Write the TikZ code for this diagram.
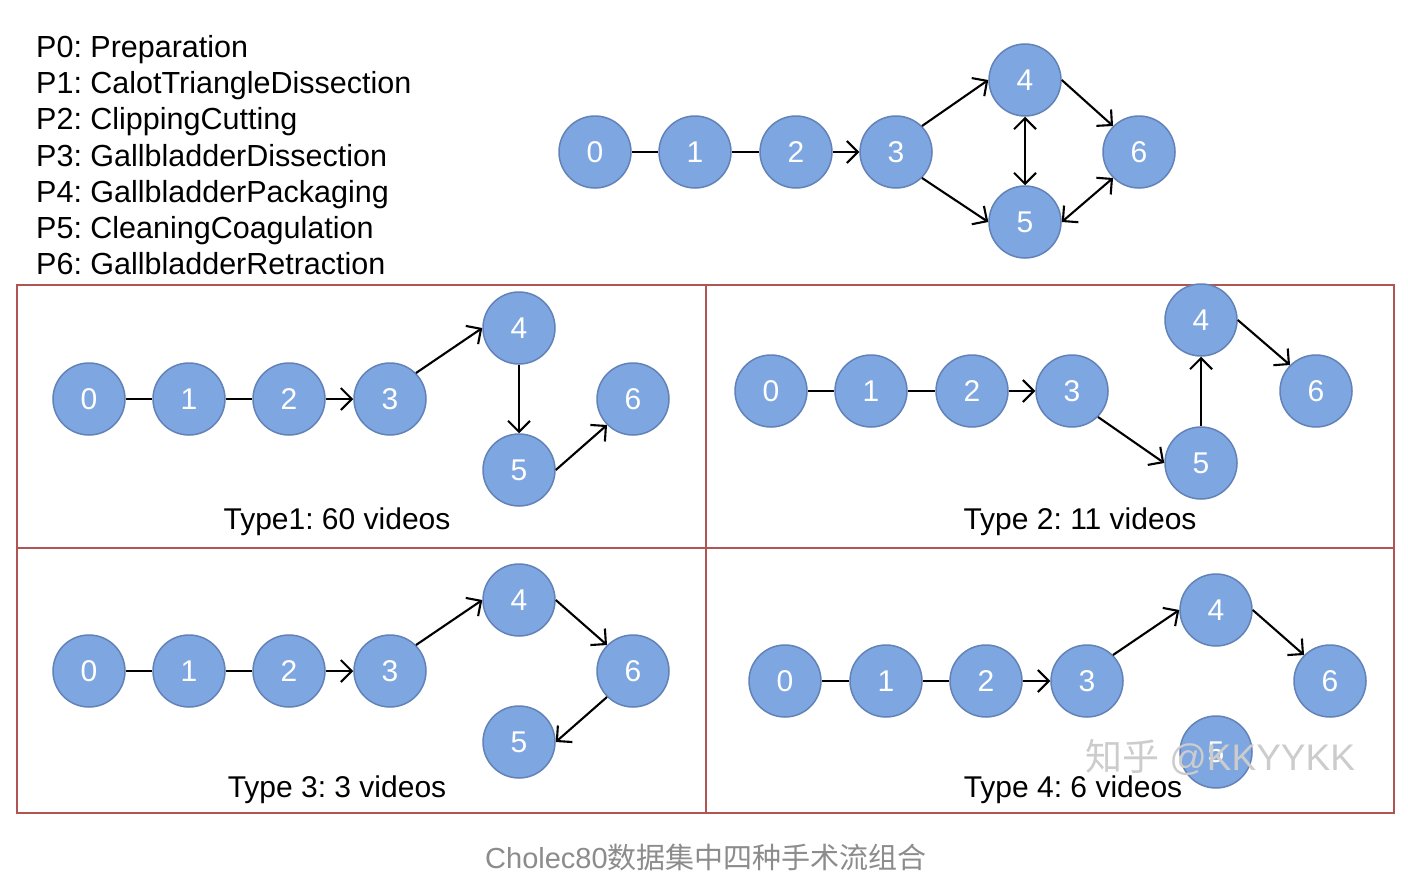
\documentclass[tikz,border=0pt]{standalone}
\usepackage{fontspec}
\setmainfont{Liberation Sans}
\newfontfamily\cjk{Noto Sans CJK SC}
\usetikzlibrary{arrows.meta}
\definecolor{nodefill}{RGB}{126,166,224}
\definecolor{nodeline}{RGB}{98,130,184}
\definecolor{panelline}{RGB}{176,84,84}
\definecolor{capgray}{RGB}{140,140,140}
\tikzset{
  phase/.style={circle, fill=nodefill, draw=nodeline, line width=1.5pt, minimum size=72pt, inner sep=0pt,
    text=white, font=\fontsize{30}{30}\selectfont},
  link/.style={line width=2.1pt, draw=black},
  tipA/.tip={Straight Barb[length=11pt,width=22pt,line width=2.1pt]},
  arr/.style={link, -tipA},
  darr/.style={link, tipA-tipA},
  legend/.style={anchor=base west, inner sep=0pt, font=\fontsize{30.5}{30.5}\selectfont},
  typelabel/.style={anchor=base, inner sep=0pt, font=\fontsize{30}{30}\selectfont},
  panel/.style={draw=panelline, line width=2pt}
}
\begin{document}
\frenchspacing
\begin{tikzpicture}[x=1pt,y=-1pt]
\useasboundingbox (0,0) rectangle (1408,878);
\fill[white] (0,0) rectangle (1408,878);

% legend
\node[legend] (l0) at (36,57) {P0: Preparation};
\node[legend] (l1) at (36,93.3) {P1: CalotTriangleDissection};
\node[legend] (l2) at (36,129.6) {P2: ClippingCutting};
\node[legend] (l3) at (36,166) {P3: GallbladderDissection};
\node[legend] (l4) at (36,202.2) {P4: GallbladderPackaging};
\node[legend] (l5) at (36,238.5) {P5: CleaningCoagulation};
\node[legend] (l6) at (36,274.8) {P6: GallbladderRetraction};

% panels
\draw[panel] (17,285) rectangle (1394,813);
\draw[panel] (706,285) -- (706,813);
\draw[panel] (17,548) -- (1394,548);

% top graph
\node[phase] (t0) at (595,152) {0};
\node[phase] (t1) at (695,152) {1};
\node[phase] (t2) at (796,152) {2};
\node[phase] (t3) at (896,152) {3};
\node[phase] (t4) at (1025,80) {4};
\node[phase] (t5) at (1025,222) {5};
\node[phase] (t6) at (1139,152) {6};
\draw[link] (t0) -- (t1);
\draw[link] (t1) -- (t2);
\draw[arr] (t2) -- (t3);
\draw[arr] (t3.45) -- (t4.west);
\draw[arr] (t3.-45) -- (t5.west);
\draw[darr] (t4) -- (t5);
\draw[arr] (t4.east) -- (t6.135);
\draw[darr] (t5.east) -- (t6.-135);

% Type 1
\node[phase] (a0) at (89,399) {0};
\node[phase] (a1) at (189,399) {1};
\node[phase] (a2) at (289,399) {2};
\node[phase] (a3) at (390,399) {3};
\node[phase] (a4) at (519,328) {4};
\node[phase] (a5) at (519,470) {5};
\node[phase] (a6) at (633,399) {6};
\draw[link] (a0) -- (a1);
\draw[link] (a1) -- (a2);
\draw[arr] (a2) -- (a3);
\draw[arr] (a3.45) -- (a4.west);
\draw[arr] (a4) -- (a5);
\draw[arr] (a5.east) -- (a6.-135);
\node[typelabel] (la) at (337,529) {Type1: 60 videos};

% Type 2
\node[phase] (b0) at (771,391) {0};
\node[phase] (b1) at (871,391) {1};
\node[phase] (b2) at (972,391) {2};
\node[phase] (b3) at (1072,391) {3};
\node[phase] (b4) at (1201,320) {4};
\node[phase] (b5) at (1201,463) {5};
\node[phase] (b6) at (1316,391) {6};
\draw[link] (b0) -- (b1);
\draw[link] (b1) -- (b2);
\draw[arr] (b2) -- (b3);
\draw[arr] (b3.-45) -- (b5.west);
\draw[arr] (b5) -- (b4);
\draw[arr] (b4.east) -- (b6.135);
\node[typelabel] (lb) at (1080,529) {Type 2: 11 videos};

% Type 3
\node[phase] (c0) at (89,671) {0};
\node[phase] (c1) at (189,671) {1};
\node[phase] (c2) at (289,671) {2};
\node[phase] (c3) at (390,671) {3};
\node[phase] (c4) at (519,600) {4};
\node[phase] (c5) at (519,742) {5};
\node[phase] (c6) at (633,671) {6};
\draw[link] (c0) -- (c1);
\draw[link] (c1) -- (c2);
\draw[arr] (c2) -- (c3);
\draw[arr] (c3.45) -- (c4.west);
\draw[arr] (c4.east) -- (c6.135);
\draw[arr] (c6.-135) -- (c5.east);
\node[typelabel] (lc) at (337,797) {Type 3: 3 videos};

% Type 4
\node[phase] (d0) at (785,681) {0};
\node[phase] (d1) at (886,681) {1};
\node[phase] (d2) at (986,681) {2};
\node[phase] (d3) at (1087,681) {3};
\node[phase] (d4) at (1216,610) {4};
\node[phase] (d5) at (1216,752) {5};
\node[phase] (d6) at (1330,681) {6};
\draw[link] (d0) -- (d1);
\draw[link] (d1) -- (d2);
\draw[arr] (d2) -- (d3);
\draw[arr] (d3.45) -- (d4.west);
\draw[arr] (d4.east) -- (d6.135);
\node[typelabel] (ld) at (1073,797) {Type 4: 6 videos};

% watermark
\node[inner sep=0pt, text=gray!40, font=\fontsize{37}{37}\selectfont] (wm) at (1220,757) {{\cjk 知乎} @KKYYKK};

% caption
\node[inner sep=0pt, text=capgray, font=\fontsize{29}{29}\selectfont] (cap) at (706,857) {Cholec80{\cjk 数据集中四种手术流组合}};
\end{tikzpicture}
\end{document}
